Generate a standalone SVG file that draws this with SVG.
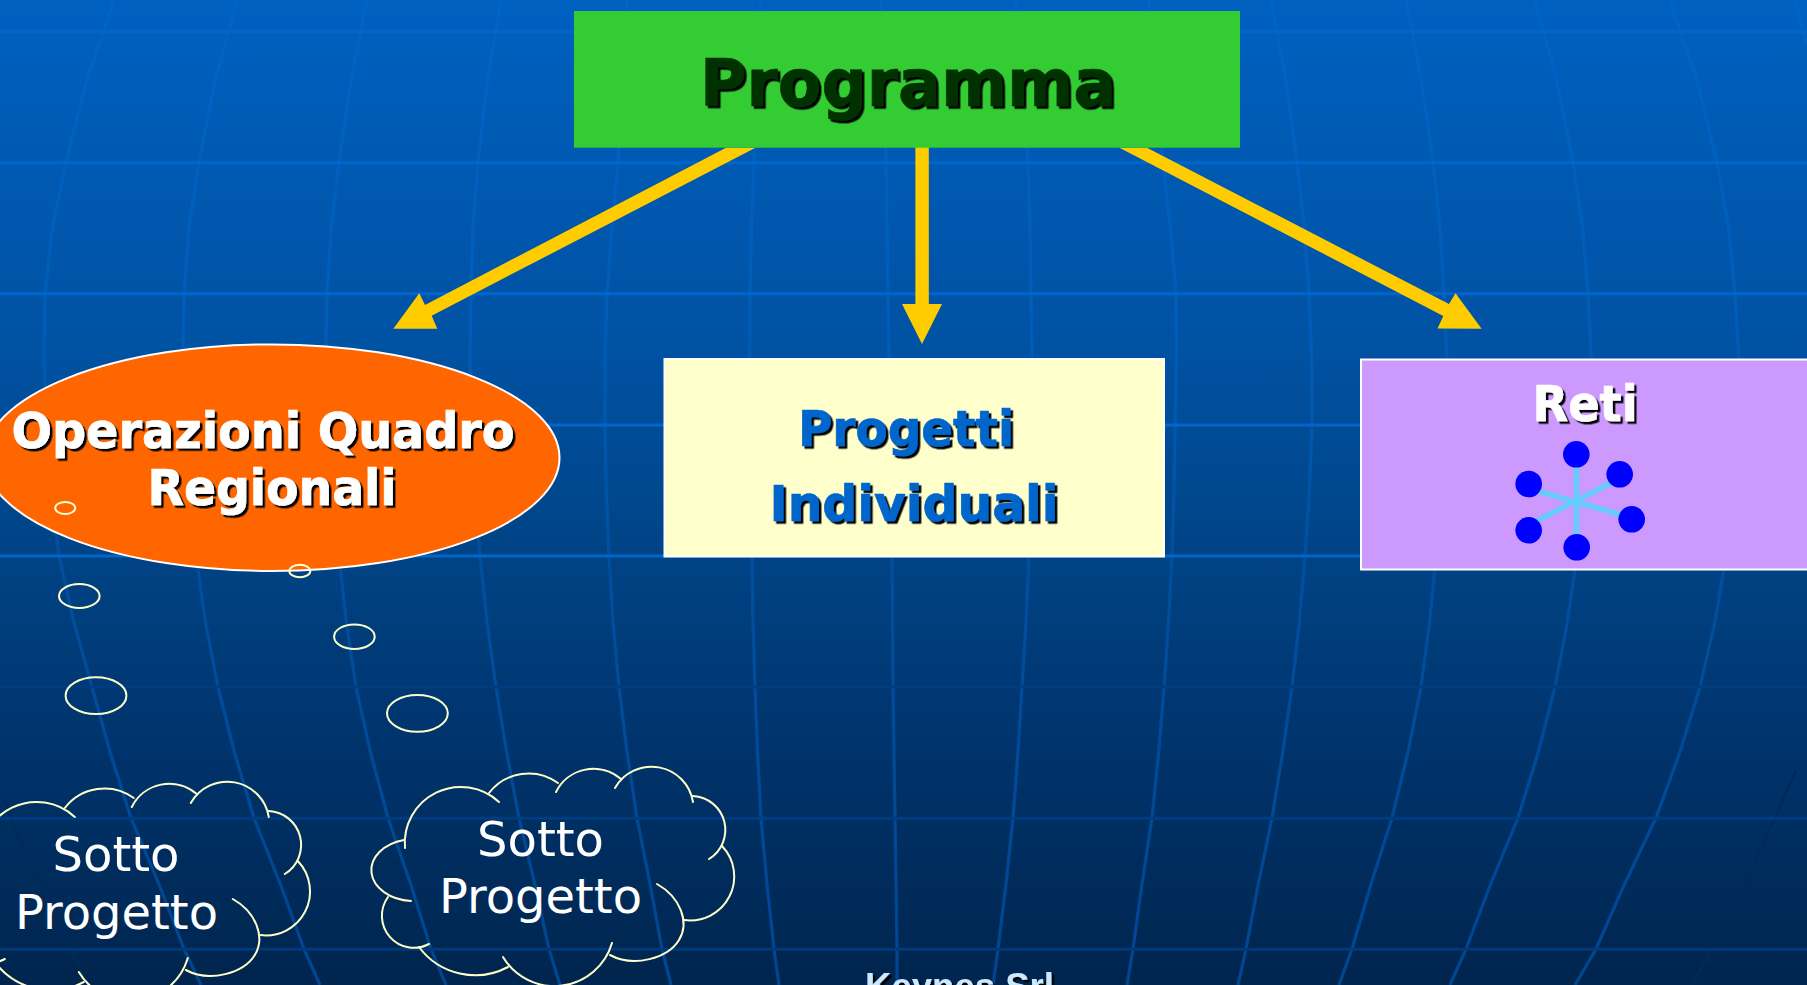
<svg xmlns="http://www.w3.org/2000/svg" xmlns:xlink="http://www.w3.org/1999/xlink" width="1807" height="985" viewBox="0 0 1807 985">
<style>
.h{fill:none;stroke-width:3}
.m{fill:none;stroke:url(#mer);stroke-width:3.2;stroke-linejoin:round}
.d{fill:none;stroke:#002a5a;stroke-width:2.5;stroke-linejoin:round}
.bold{font-family:"DejaVu Sans",sans-serif;font-weight:bold;filter:url(#sh);stroke-width:.7}
.wt{fill:#fff;stroke:#fff}
.bl{fill:#06c;stroke:#06c}
.gr{fill:#030;stroke:#030}
.reg{font-family:"DejaVu Sans",sans-serif;font-size:48px;fill:#fff}
.arrow{fill:#fc0}
.bub{fill:none;stroke:#ffc;stroke-width:2}
.arc{fill:none;stroke:#ffc;stroke-width:2;stroke-linecap:round}
.spoke{stroke:#6cf;stroke-width:5.5}
.dot{fill:#00f}
</style>
<defs>
<linearGradient id="bg" gradientUnits="userSpaceOnUse" x1="0" y1="0" x2="0" y2="985">
<stop offset="0" stop-color="#0060c0"/><stop offset=".35" stop-color="#0052a3"/><stop offset=".58" stop-color="#004283"/><stop offset=".75" stop-color="#00346d"/><stop offset="1" stop-color="#00254e"/>
</linearGradient>
<linearGradient id="mer" gradientUnits="userSpaceOnUse" x1="0" y1="0" x2="0" y2="985">
<stop offset="0" stop-color="#0064c8"/><stop offset=".35" stop-color="#005cb6"/><stop offset=".58" stop-color="#004f9f"/><stop offset="1" stop-color="#004590"/>
</linearGradient>
<filter id="sh" x="-5%" y="-10%" width="110%" height="125%"><feDropShadow dx="2.5" dy="2.5" stdDeviation="0" flood-color="#000"/></filter>
<g id="cloudShape">
<path class="arc" d="M405 848A56 56 0 0 1 499 802"/>
<path class="arc" d="M489 793A50 50 0 0 1 558 783"/>
<path class="arc" d="M556 792A42 42 0 0 1 621 779"/>
<path class="arc" d="M615 788A42 42 0 0 1 693 802"/>
<path class="arc" d="M693 796A34 34 0 0 1 709 859"/>
<path class="arc" d="M722 846A44 44 0 0 1 684 920"/>
<path class="arc" d="M657 884C680 897 690 922 679 940C668 958 634 968 610 955"/>
<path class="arc" d="M612 943A60 60 0 0 1 503 957"/>
<path class="arc" d="M508 967A70 70 0 0 1 419 947"/>
<path class="arc" d="M429 944A32 32 0 0 1 388 897"/>
<path class="arc" d="M411 901A43 31 0 0 1 404 840"/>
</g>
</defs>
<rect id="background" width="1807" height="985" fill="url(#bg)"/>
<g id="grid">
<polyline class="m" points="114,0 86.6,81 66,162 52.4,228 45,294 43.9,360 47,425 51,490 59,556 73.8,622 92,687 110,752 131,818 158.9,884 184,949 201,985"/>
<polyline class="m" points="237,0 215,81 199,162 189,228 184,294 182.9,360 185,425 189.2,490 196,556 205.4,622 218,687 234.3,752 254,818 280.3,884 304,949 320,985"/>
<polyline class="m" points="367,0 351,81 339,162 331.3,228 327,294 325.5,360 327,425 332,490 339,556 346.3,622 356,687 370.4,752 388,818 410.6,884 431,949 446,985"/>
<polyline class="m" points="501,0 487.5,81 478,162 473,228 471,294 470,360 471,425 474.5,490 480,556 487,622 496,687 506.6,752 519,818 534.8,884 549,949 560,985"/>
<polyline class="m" points="627,0 622.8,81 618,162 612,228 607,294 605,360 605,425 606.3,490 609,556 613,622 619,687 627,752 637,818 650,884 662,949 671,985"/>
<polyline class="m" points="761,0 757.5,81 754,162 751.5,228 750,294 749.7,360 750,425 751,490 752,556 753,622 755,687 757.5,752 761,818 767,884 774,949 779,985"/>
<polyline class="m" points="881,0 886,162 888,294 890,425 892,556 893,687 895,818 897,949 897,985"/>
<polyline class="m" points="1015,0 1022,81 1028,162 1030,228 1031,294 1032,360 1032,425 1031,490 1029,556 1026,622 1022,687 1018,752 1013,818 1006,884 998,949 993,985"/>
<polyline class="m" points="1149,0 1156,81 1163,162 1170.4,228 1176,294 1176.5,360 1175,425 1174,490 1172,556 1168.6,622 1164,687 1158.7,752 1152,818 1142,884 1133,949 1127,985"/>
<polyline class="m" points="1271,0 1286,81 1297,162 1304.4,228 1309,294 1311.7,360 1312,425 1309.5,490 1305,556 1299.3,622 1292,687 1282.8,752 1272,818 1258.3,884 1246,949 1238,985"/>
<polyline class="m" points="1406,0 1421.5,81 1433,162 1440,228 1444,294 1446.9,360 1447,425 1442.6,490 1436,556 1429.6,622 1421,687 1408,752 1392,818 1371,884 1352,949 1339,985"/>
<polyline class="m" points="1535,0 1556.9,81 1573,162 1582.7,228 1588,294 1591.3,360 1591,425 1585.6,490 1577,556 1567.4,622 1555,687 1538.4,752 1518,818 1490.7,884 1466,949 1450,985"/>
<polyline class="m" points="1670,0 1697,81 1717,162 1728.7,228 1735,294 1739,360 1739,425 1734.4,490 1726,556 1715,622 1700,687 1680,752 1656,818 1624.6,884 1596,949 1575,985"/>
<polyline class="m" points="1795,0 1807,45"/>
<polyline class="d" points="1796,770 1777,813 1738,900 1692,985"/>
<polyline class="d" points="5,800 15,830 45,890 82,973 88,985"/>
<g class="h">
<path stroke="#0066cc" d="M0 31.6H1807M0 162.7H1807M0 293.8H1807M0 424.9H1807M0 556H1807"/>
<path stroke="#003c80" d="M0 687.1H1807M0 818.2H1807"/>
<path stroke="#003a7a" d="M0 949.3H1807"/>
</g>
</g>
<g id="connectors">
<polygon class="arrow" points="726,147.7 425,305 419.3,293.3 393.3,328.7 437.3,328.7 431.7,315.7 755.5,147.7"/>
<polygon class="arrow" points="915.4,147 915.4,304 902,304 922,344 942,304 928.8,304 928.8,147"/>
<polygon class="arrow" points="1147,147.7 1449,304 1455.5,293.3 1481.6,328.7 1437.5,328.5 1443.3,316 1119.4,147.7"/>
</g>
<g id="programma">
<rect x="574" y="11" width="666" height="136.7" fill="#3c3"/>
<text class="bold gr" x="700" y="105.5" font-size="65" textLength="416" lengthAdjust="spacingAndGlyphs">Programma</text>
</g>
<g id="operazioni">
<ellipse cx="272" cy="457.7" rx="287.5" ry="113.3" fill="#f60" stroke="#fff" stroke-width="2"/>
<text class="bold wt" x="11.5" y="448" font-size="49" textLength="503" lengthAdjust="spacingAndGlyphs">Operazioni Quadro</text>
<text class="bold wt" x="147.5" y="505" font-size="49" textLength="249" lengthAdjust="spacingAndGlyphs">Regionali</text>
</g>
<g id="progetti">
<rect x="664.5" y="359" width="499.5" height="197.5" fill="#ffc" stroke="#fff" stroke-width="2"/>
<text class="bold bl" x="798" y="445.5" font-size="50" textLength="216" lengthAdjust="spacingAndGlyphs">Progetti</text>
<text class="bold bl" x="769.5" y="520.5" font-size="50" textLength="289" lengthAdjust="spacingAndGlyphs">Individuali</text>
</g>
<g id="reti">
<rect x="1361" y="359.5" width="460" height="210" fill="#c9f" stroke="#fff" stroke-width="2"/>
<text class="bold wt" x="1532.5" y="421" font-size="50" textLength="105" lengthAdjust="spacingAndGlyphs">Reti</text>
<g id="star">
<line class="spoke" x1="1576.5" y1="454" x2="1576.5" y2="547"/>
<line class="spoke" x1="1613" y1="481.8" x2="1532" y2="523.2"/>
<line class="spoke" x1="1537" y1="490.8" x2="1621" y2="514.8"/>
<circle class="dot" cx="1576.3" cy="454.3" r="13.3"/>
<circle class="dot" cx="1619.7" cy="474.3" r="13.3"/>
<circle class="dot" cx="1631.7" cy="519.3" r="13.3"/>
<circle class="dot" cx="1576.7" cy="547.3" r="13.3"/>
<circle class="dot" cx="1528.7" cy="530.3" r="13.3"/>
<circle class="dot" cx="1528.7" cy="484" r="13.3"/>
</g>
</g>
<g id="bubbles">
<ellipse class="bub" cx="65.2" cy="508" rx="10" ry="6"/>
<ellipse class="bub" cx="299.8" cy="571" rx="10.5" ry="6.3"/>
<ellipse class="bub" cx="79.3" cy="596" rx="20.3" ry="12"/>
<ellipse class="bub" cx="354.4" cy="636.7" rx="20.3" ry="12.3"/>
<ellipse class="bub" cx="96" cy="695.7" rx="30.4" ry="18.4"/>
<ellipse class="bub" cx="417.4" cy="713.3" rx="30.4" ry="18.4"/>
</g>
<g id="cloud1">
<use xlink:href="#cloudShape" href="#cloudShape" x="-424.2" y="15"/>
<text class="reg" x="52.5" y="871" textLength="127" lengthAdjust="spacingAndGlyphs">Sotto</text>
<text class="reg" x="15" y="929" textLength="203" lengthAdjust="spacingAndGlyphs">Progetto</text>
</g>
<g id="cloud2">
<use xlink:href="#cloudShape" href="#cloudShape"/>
<text class="reg" x="477" y="856" textLength="127" lengthAdjust="spacingAndGlyphs">Sotto</text>
<text class="reg" x="439" y="913" textLength="203" lengthAdjust="spacingAndGlyphs">Progetto</text>
</g>
<g id="footer">
<text x="865" y="999" font-family="'Liberation Sans',Arial,sans-serif" font-weight="bold" font-size="36" fill="#cce9ff" filter="url(#sh)" textLength="189" lengthAdjust="spacingAndGlyphs">Keynes Srl</text>
</g>
</svg>
